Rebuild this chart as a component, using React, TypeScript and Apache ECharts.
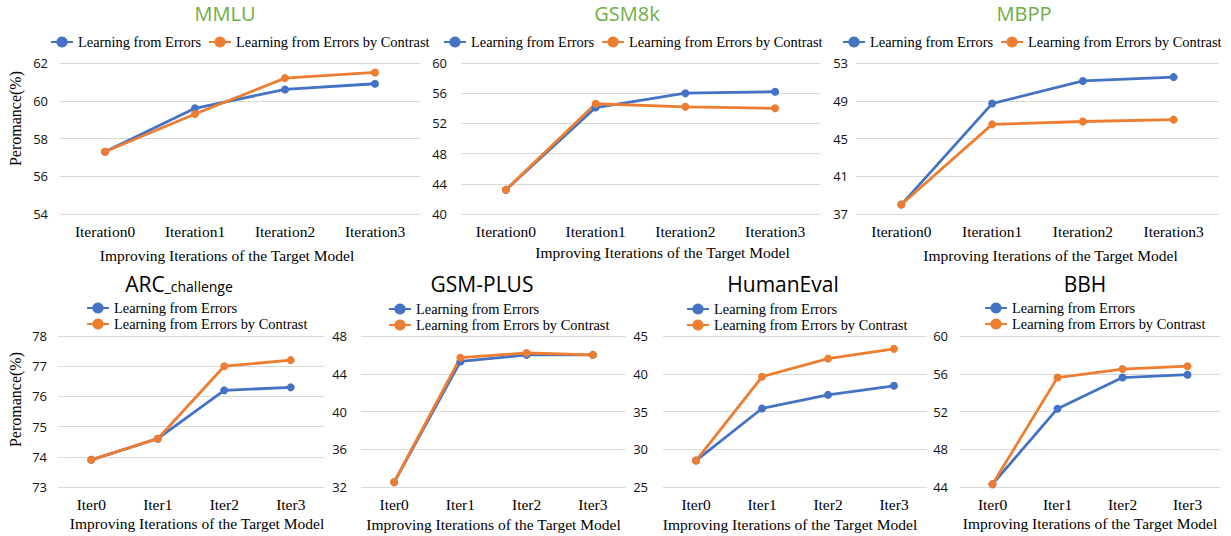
import React, { useEffect, useRef } from "react";
import * as echarts from "echarts";

// ---------- data ----------
const seriesNames = ["Learning from Errors", "Learning from Errors by Contrast"];
const iterLong = ["Iteration0", "Iteration1", "Iteration2", "Iteration3"];
const iterShort = ["Iter0", "Iter1", "Iter2", "Iter3"];

const mmluErrors = [57.3, 59.6, 60.6, 60.9];
const mmluContrast = [57.3, 59.3, 61.2, 61.5];
const mmluTicks = [54, 56, 58, 60, 62];

const gsm8kErrors = [43.2, 54.1, 56.0, 56.2];
const gsm8kContrast = [43.2, 54.6, 54.2, 54.0];
const gsm8kTicks = [40, 44, 48, 52, 56, 60];

const mbppErrors = [38.0, 48.7, 51.1, 51.5];
const mbppContrast = [38.0, 46.5, 46.8, 47.0];
const mbppTicks = [37, 41, 45, 49, 53];

const arcErrors = [73.9, 74.6, 76.2, 76.3];
const arcContrast = [73.9, 74.6, 77.0, 77.2];
const arcTicks = [73, 74, 75, 76, 77, 78];

const gsmPlusErrors = [32.5, 45.3, 46.0, 46.0];
const gsmPlusContrast = [32.5, 45.7, 46.2, 46.0];
const gsmPlusTicks = [32, 36, 40, 44, 48];

const humanEvalErrors = [28.5, 35.4, 37.2, 38.4];
const humanEvalContrast = [28.5, 39.6, 42.0, 43.3];
const humanEvalTicks = [25, 30, 35, 40, 45];

const bbhErrors = [44.3, 52.3, 55.6, 55.9];
const bbhContrast = [44.3, 55.6, 56.5, 56.8];
const bbhTicks = [44, 48, 52, 56, 60];

const xAxisName = "Improving Iterations of the Target Model";
const yAxisName = "Peromance(%)";

// ---------- styling ----------
const BLUE = "#4472C4";
const ORANGE = "#ED7D31";
const GREEN = "#70AD47";
const SERIF = "Liberation Serif";
const SANS = "Open Sans";

type Panel = {
  title: string;
  titleRich?: boolean;
  titleColor: string;
  titleSize: number;
  titleX: number;
  titleY: number;
  cats: string[];
  errors: number[];
  contrast: number[];
  ticks: number[];
  grid: { left: number; top: number; width: number; height: number };
  labelMargin: number;
  legend: { left: number; top: number; orient: "horizontal" | "vertical"; iconW: number };
  xNameGap: number;
  xNameShift: number;
  yName?: { gap: number; shift: number };
};

const panels: Panel[] = [
  {
    title: "MMLU", titleColor: GREEN, titleSize: 20, titleX: 225, titleY: 13,
    cats: iterLong, errors: mmluErrors, contrast: mmluContrast, ticks: mmluTicks,
    grid: { left: 60, top: 63, width: 360, height: 151 }, labelMargin: 12,
    legend: { left: 50, top: 35, orient: "horizontal", iconW: 22 },
    xNameGap: 33, xNameShift: -13, yName: { gap: 37, shift: 20 },
  },
  {
    title: "GSM8k", titleColor: GREEN, titleSize: 20, titleX: 627, titleY: 13,
    cats: iterLong, errors: gsm8kErrors, contrast: gsm8kContrast, ticks: gsm8kTicks,
    grid: { left: 461, top: 63, width: 359, height: 151 }, labelMargin: 14,
    legend: { left: 443, top: 35, orient: "horizontal", iconW: 22 },
    xNameGap: 30, xNameShift: 22,
  },
  {
    title: "MBPP", titleColor: GREEN, titleSize: 20, titleX: 1024, titleY: 13,
    cats: iterLong, errors: mbppErrors, contrast: mbppContrast, ticks: mbppTicks,
    grid: { left: 856, top: 63, width: 363, height: 151 }, labelMargin: 8,
    legend: { left: 842, top: 35, orient: "horizontal", iconW: 22 },
    xNameGap: 33, xNameShift: 13,
  },
  {
    title: "ARC_challenge", titleRich: true, titleColor: "#000", titleSize: 21, titleX: 179, titleY: 284,
    cats: iterShort, errors: arcErrors, contrast: arcContrast, ticks: arcTicks,
    grid: { left: 58, top: 336, width: 266, height: 151 }, labelMargin: 11,
    legend: { left: 86, top: 301, orient: "vertical", iconW: 22 },
    xNameGap: 28, xNameShift: 6, yName: { gap: 35, shift: 12 },
  },
  {
    title: "GSM-PLUS", titleColor: "#000", titleSize: 21, titleX: 482, titleY: 284,
    cats: iterShort, errors: gsmPlusErrors, contrast: gsmPlusContrast, ticks: gsmPlusTicks,
    grid: { left: 361, top: 336, width: 265, height: 151 }, labelMargin: 14,
    legend: { left: 388, top: 302, orient: "vertical", iconW: 22 },
    xNameGap: 29, xNameShift: 0,
  },
  {
    title: "HumanEval", titleColor: "#000", titleSize: 21, titleX: 783, titleY: 284,
    cats: iterShort, errors: humanEvalErrors, contrast: humanEvalContrast, ticks: humanEvalTicks,
    grid: { left: 663, top: 336, width: 264, height: 151 }, labelMargin: 15,
    legend: { left: 686, top: 302, orient: "vertical", iconW: 22 },
    xNameGap: 29, xNameShift: -5,
  },
  {
    title: "BBH", titleColor: "#000", titleSize: 21, titleX: 1085, titleY: 284,
    cats: iterShort, errors: bbhErrors, contrast: bbhContrast, ticks: bbhTicks,
    grid: { left: 960, top: 336, width: 260, height: 151 }, labelMargin: 12,
    legend: { left: 984, top: 301, orient: "vertical", iconW: 22 },
    xNameGap: 28, xNameShift: 0,
  },
];

function buildOption() {
  const grid: any[] = [];
  const xAxis: any[] = [];
  const yAxis: any[] = [];
  const series: any[] = [];
  const legend: any[] = [];
  const graphic: any[] = [];

  panels.forEach((p, i) => {
    grid.push({ ...p.grid, containLabel: false });
    const shift = p.xNameShift;
    xAxis.push({
      type: "category",
      gridIndex: i,
      data: p.cats,
      boundaryGap: true,
      axisLine: { show: false },
      axisTick: { show: false },
      axisLabel: { color: "#000", fontFamily: SERIF, fontSize: 15.5, margin: 9 },
      name: xAxisName,
      nameLocation: "middle",
      nameGap: p.xNameGap,
      nameTextStyle: {
        color: "#000",
        fontFamily: SERIF,
        fontSize: 15.5,
        padding: shift >= 0 ? [0, 0, 0, 2 * shift] : [0, -2 * shift, 0, 0],
      },
    });
    const tmin = p.ticks[0];
    const tmax = p.ticks[p.ticks.length - 1];
    const step = p.ticks[1] - p.ticks[0];
    const regular = tmin % step === 0;
    const y: any = {
      type: "value",
      gridIndex: i,
      min: tmin,
      max: tmax,
      axisLine: { show: false },
      axisTick: { show: false },
      axisLabel: { color: "#111", fontFamily: SANS, fontSize: 13, margin: p.labelMargin },
      splitLine: { show: true, lineStyle: { color: "#D9D9D9", width: 1 } },
    };
    if (regular) {
      y.interval = step;
    } else {
      y.axisLabel.customValues = p.ticks;
      y.axisTick.customValues = p.ticks;
    }
    if (p.yName) {
      y.name = yAxisName;
      y.nameLocation = "middle";
      y.nameRotate = 90;
      y.nameGap = p.yName.gap;
      y.nameTextStyle = {
        color: "#000",
        fontFamily: SERIF,
        fontSize: 16,
        padding: [0, 0, 0, 2 * p.yName.shift],
      };
    }
    yAxis.push(y);

    [
      { name: seriesNames[0], data: p.errors, color: BLUE },
      { name: seriesNames[1], data: p.contrast, color: ORANGE },
    ].forEach((s) => {
      series.push({
        type: "line",
        name: s.name,
        xAxisIndex: i,
        yAxisIndex: i,
        data: s.data,
        symbol: "circle",
        symbolSize: 8,
        showSymbol: true,
        lineStyle: { color: s.color, width: 2.8 },
        itemStyle: { color: s.color },
      });
    });

    legend.push({
      data: seriesNames,
      orient: p.legend.orient,
      left: p.legend.left,
      top: p.legend.top,
      padding: 0,
      itemWidth: p.legend.iconW,
      itemHeight: 14,
      itemGap: p.legend.orient === "horizontal" ? 7 : 2,
      textStyle: { color: "#000", fontFamily: SERIF, fontSize: 14.4 },
      selectedMode: false,
    });

    if (p.titleRich) {
      graphic.push({
        type: "text",
        x: p.titleX,
        y: p.titleY,
        style: {
          text: "{a|ARC}{b|_challenge}",
          align: "center",
          verticalAlign: "middle",
          rich: {
            a: { fontFamily: SANS, fontSize: p.titleSize, fill: p.titleColor, verticalAlign: "bottom" },
            b: { fontFamily: SANS, fontSize: 14, fill: p.titleColor, verticalAlign: "bottom", padding: [0, 0, 1, 0] },
          },
        },
      });
    } else {
      graphic.push({
        type: "text",
        x: p.titleX,
        y: p.titleY,
        style: {
          text: p.title,
          align: "center",
          verticalAlign: "middle",
          fontFamily: SANS,
          fontSize: p.titleSize,
          fill: p.titleColor,
        },
      });
    }
  });

  return {
    animation: false,
    backgroundColor: "#fff",
    textStyle: { fontFamily: SERIF },
    grid,
    xAxis,
    yAxis,
    series,
    legend,
    graphic,
  };
}

export default function App() {
  const ref = useRef<HTMLDivElement>(null);
  useEffect(() => {
    if (!ref.current) return;
    const chart = echarts.init(ref.current, undefined, { renderer: "svg" });
    chart.setOption(buildOption() as any);
    return () => chart.dispose();
  }, []);
  return (
    <div
      ref={ref}
      style={{ position: "absolute", left: 0, top: 0, width: 1231, height: 536, background: "#fff" }}
    />
  );
}
